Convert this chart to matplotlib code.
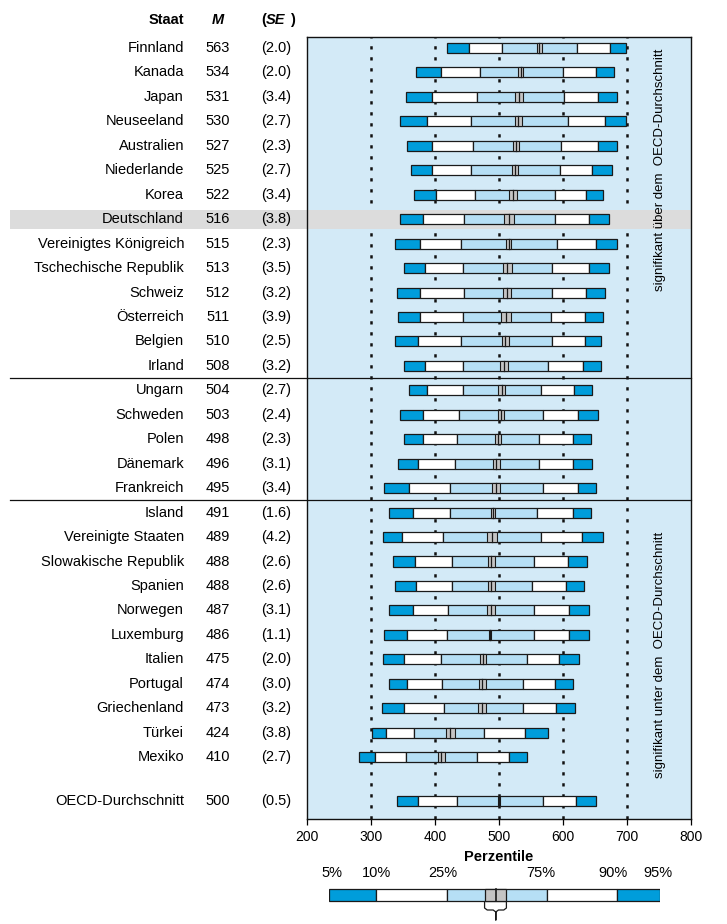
import numpy as np
import matplotlib
matplotlib.use("Agg")
import matplotlib.pyplot as plt
import matplotlib.transforms as mtransforms

plt.rcParams["font.family"] = ["Liberation Sans", "DejaVu Sans"]

# PISA-style percentile bars
countries = [
    "Finnland", "Kanada", "Japan", "Neuseeland", "Australien", "Niederlande",
    "Korea", "Deutschland", "Vereinigtes Königreich", "Tschechische Republik",
    "Schweiz", "Österreich", "Belgien", "Irland", "Ungarn", "Schweden", "Polen",
    "Dänemark", "Frankreich", "Island", "Vereinigte Staaten",
    "Slowakische Republik", "Spanien", "Norwegen", "Luxemburg", "Italien",
    "Portugal", "Griechenland", "Türkei", "Mexiko", "OECD-Durchschnitt",
]
mean = [563, 534, 531, 530, 527, 525, 522, 516, 515, 513, 512, 511, 510, 508,
        504, 503, 498, 496, 495, 491, 489, 488, 488, 487, 486, 475, 474, 473,
        424, 410, 500]
se = [2.0, 2.0, 3.4, 2.7, 2.3, 2.7, 3.4, 3.8, 2.3, 3.5, 3.2, 3.9, 2.5, 3.2,
      2.7, 2.4, 2.3, 3.1, 3.4, 1.6, 4.2, 2.6, 2.6, 3.1, 1.1, 2.0, 3.0, 3.2,
      3.8, 2.7, 0.5]
p5 = [418, 371, 355, 346, 357, 362, 367, 345, 337, 351, 340, 342, 337, 351,
      359, 346, 351, 342, 320, 328, 318, 334, 337, 328, 321, 318, 328, 317,
      301, 281, 340]
p10 = [453, 410, 396, 388, 395, 395, 402, 381, 376, 385, 377, 377, 374, 385,
       388, 381, 381, 373, 359, 365, 349, 368, 370, 365, 357, 351, 357, 352,
       324, 306, 374]
p25 = [505, 471, 465, 456, 460, 456, 462, 446, 441, 444, 445, 443, 441, 443,
       443, 438, 434, 432, 424, 424, 412, 426, 427, 421, 419, 409, 411, 414,
       367, 354, 435]
p75 = [622, 600, 602, 608, 597, 596, 587, 587, 590, 583, 583, 582, 583, 576,
       566, 569, 562, 562, 569, 560, 566, 554, 552, 554, 555, 543, 538, 537,
       476, 465, 568]
p90 = [673, 651, 654, 666, 654, 646, 636, 641, 652, 641, 636, 634, 634, 631,
       617, 623, 615, 615, 624, 615, 629, 608, 604, 610, 609, 594, 588, 589,
       540, 516, 621]
p95 = [699, 680, 685, 699, 685, 676, 663, 672, 685, 672, 665, 663, 660, 660,
       646, 654, 644, 646, 652, 643, 662, 638, 633, 641, 640, 625, 616, 619,
       576, 544, 652]

highlight = "Deutschland"
group_breaks = [13.5, 18.5]
xticks = [200, 300, 400, 500, 600, 700, 800]
grid_x = [300, 400, 500, 600, 700]

# legend bar (fractions of its own width)
legend_edges = [0.0, 0.142, 0.358, 0.658, 0.871, 1.0]
legend_ci = [0.470, 0.504, 0.536]
legend_labels = ["5%", "10%", "25%", "75%", "90%", "95%"]
legend_label_x = [0.008, 0.142, 0.344, 0.641, 0.857, 0.993]

DARK = "#009ddb"
LIGHT = "#b6dff5"
PANEL = "#d3eaf7"
CI_GREY = "#c4c4c4"
BAND = "#dcdcdc"
EDGE = "#1a1a1a"
FS = 10.5

W, H = 727, 924
fig = plt.figure(figsize=(W / 100, H / 100), dpi=100)
ax = fig.add_axes([307 / W, 1 - 819 / H, 384 / W, (819 - 37) / H])
ax.set_facecolor(PANEL)
ax.set_xlim(200, 800)
ax.set_ylim(31.53, -0.45)

ypos = np.append(np.arange(len(countries) - 1), 30.8)
p5a, p10a, p25a, p75a, p90a, p95a = map(np.asarray, (p5, p10, p25, p75, p90, p95))
mean_a = np.asarray(mean, dtype=float)
se_a = np.asarray(se)
h = 0.41

for x in grid_x:
    ax.axvline(x, color="#111111", lw=1.8, ls=(0, (1.3, 3.1)), zorder=1)

# highlighted row and separators run into the label column
hi = countries.index(highlight)
ax.axhspan(ypos[hi] - 0.39, ypos[hi] + 0.39, xmin=-0.773, xmax=1,
           color=BAND, lw=0, zorder=1.5, clip_on=False)
for yb in group_breaks:
    ax.axhline(yb, xmin=-0.773, xmax=1, color="#111111", lw=0.9,
               zorder=1.6, clip_on=False)

segs = [(p5a, p10a, DARK), (p10a, p25a, "white"), (p25a, p75a, LIGHT),
        (p75a, p90a, "white"), (p90a, p95a, DARK)]
for lo, hi_, col in segs:
    ax.barh(ypos, hi_ - lo, left=lo, height=h, color=col, edgecolor=EDGE,
            lw=0.9, zorder=3)

ci = 1.96 * se_a
ax.barh(ypos, 2 * ci, left=mean_a - ci, height=h, color=CI_GREY,
        edgecolor=EDGE, lw=0.8, zorder=4)
for yy, m in zip(ypos, mean_a):
    ax.plot([m, m], [yy - h / 2, yy + h / 2], color=EDGE, lw=0.9, zorder=5)

ax.text(751, 5.0, "signifikant über dem  OECD-Durchschnitt", rotation=90,
        ha="center", va="center", fontsize=9.5, zorder=6)
ax.text(751, 24.8, "signifikant unter dem  OECD-Durchschnitt", rotation=90,
        ha="center", va="center", fontsize=9.5, zorder=6)

for sp in ax.spines.values():
    sp.set_color("#111111")
    sp.set_linewidth(1.0)
ax.set_yticks([])
ax.set_xticks(xticks)
ax.tick_params(axis="x", direction="out", length=4, width=0.9, labelsize=10,
               pad=4)
ax.set_xlabel("Perzentile", fontsize=FS, fontweight="bold", labelpad=4)

# left columns
tr = mtransforms.blended_transform_factory(fig.transFigure, ax.transData)
for yy, name, m, s in zip(ypos, countries, mean, se):
    ax.text(184 / W, yy, name, transform=tr, ha="right", va="center",
            fontsize=FS, clip_on=False)
    ax.text(218 / W, yy, f"{m}", transform=tr, ha="center", va="center",
            fontsize=FS, clip_on=False)
    ax.text(276 / W, yy, f"({s:.1f})", transform=tr, ha="center",
            va="center", fontsize=FS, clip_on=False)

yh = -1.15
ax.text(184 / W, yh, "Staat", transform=tr, ha="right", va="center",
        fontsize=FS, fontweight="bold", clip_on=False)
ax.text(218 / W, yh, "M", transform=tr, ha="center", va="center",
        fontsize=FS, fontweight="bold", style="italic", clip_on=False)
ax.text(261 / W, yh, "(", transform=tr, ha="left", va="center",
        fontsize=FS, fontweight="bold", clip_on=False)
ax.text(266 / W, yh, "SE", transform=tr, ha="left", va="center",
        fontsize=FS, fontweight="bold", style="italic", clip_on=False)
ax.text(290 / W, yh, ")", transform=tr, ha="left", va="center",
        fontsize=FS, fontweight="bold", clip_on=False)

# legend
lax = fig.add_axes([329 / W, 1 - 922 / H, 331 / W, (922 - 862) / H])
lax.set_xlim(0, 1)
lax.set_ylim(922, 862)
lax.axis("off")
lcols = [DARK, "white", LIGHT, "white", DARK]
for i, col in enumerate(lcols):
    lax.barh(895, legend_edges[i + 1] - legend_edges[i], left=legend_edges[i],
             height=12, color=col, edgecolor=EDGE, lw=0.9, zorder=3)
lax.barh(895, legend_ci[2] - legend_ci[0], left=legend_ci[0], height=12,
         color=CI_GREY, edgecolor=EDGE, lw=0.9, zorder=4)
lax.plot([legend_ci[1]] * 2, [889, 901], color=EDGE, lw=1.2, zorder=5)
for lx, lab in zip(legend_label_x, legend_labels):
    lax.text(lx, 873, lab, ha="center", va="center", fontsize=FS)
lo, mid, hi2 = legend_ci
brace_x = [lo, lo, lo + 0.008, mid - 0.008, mid, mid, mid, mid + 0.008,
           hi2 - 0.008, hi2, hi2]
brace_y = [901, 908, 910, 910, 912, 920, 912, 910, 910, 908, 901]
lax.plot(brace_x, brace_y, color=EDGE, lw=0.9, clip_on=False)

fig.savefig("out.png", dpi=100)
